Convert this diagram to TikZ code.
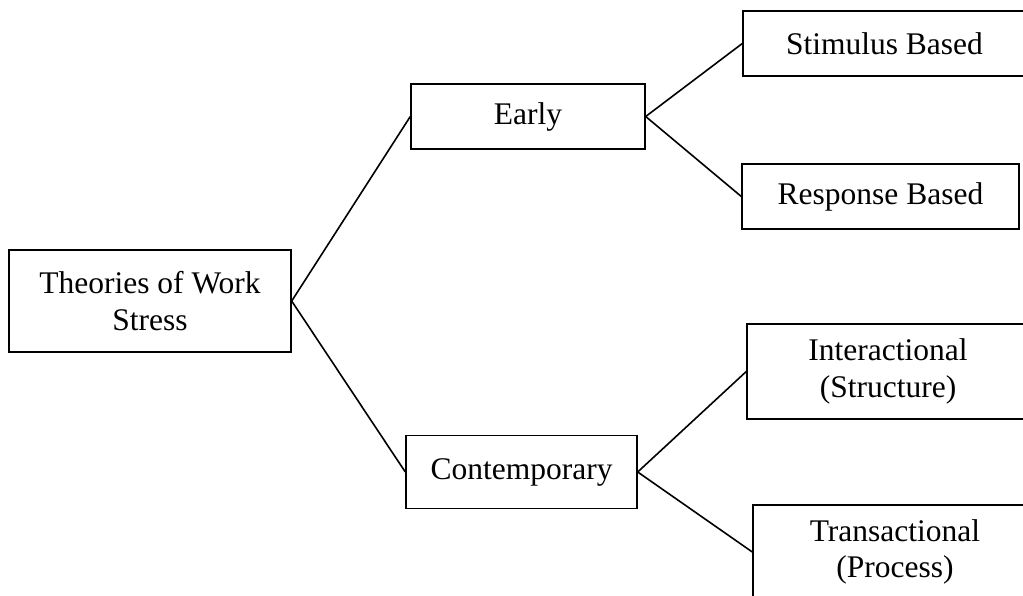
\documentclass[tikz,border=0pt]{standalone}
\usepackage{fontspec}
\setmainfont{Liberation Serif}

\def\xpage{1023}
\def\ypage{596}

\tikzset{
	theorybox/.style={draw=black, line width=1.4pt, inner sep=0pt, align=center,
		font=\fontsize{31.5}{36.5}\selectfont},
	branch/.style={black, line width=1.6pt}
}

\begin{document}
\begin{tikzpicture}[x=1pt, y={(0pt,-1pt)}]

	%%% Page
	\useasboundingbox (0,0) rectangle (\xpage,\ypage);
	\clip (0,0) rectangle (\xpage,\ypage);
	\fill[white] (0,0) rectangle (\xpage,\ypage);

	%%% Root
	\node[theorybox, minimum width=282pt, minimum height=102pt] (th_root) at (150,301) {Theories of Work\\Stress};

	%%% First level
	\node[theorybox, minimum width=234pt, minimum height=65pt] (th_early) at (528,116.5) {Early};
	\node[theorybox, minimum width=231pt, minimum height=73pt] (th_contemp) at (521.5,472) {Contemporary};

	%%% Second level
	\node[theorybox, minimum width=283pt, minimum height=65pt] (th_stimulus) at (884.5,43.5) {Stimulus Based};
	\node[theorybox, minimum width=277pt, minimum height=65pt] (th_response) at (880.5,196.5) {Response Based};
	\node[theorybox, minimum width=282pt, minimum height=95pt] (th_inter) at (888,371.5) {Interactional\\(Structure)};
	\node[theorybox, minimum width=284pt, minimum height=94pt] (th_trans) at (895,552) {Transactional\\(Process)};

	%%% Branches
	\draw[branch] (th_root.east) -- (th_early.west);
	\draw[branch] (th_root.east) -- (th_contemp.west);
	\draw[branch] (th_early.east) -- (th_stimulus.west);
	\draw[branch] (th_early.east) -- (th_response.west);
	\draw[branch] (th_contemp.east) -- (th_inter.west);
	\draw[branch] (th_contemp.east) -- (th_trans.west);

\end{tikzpicture}
\end{document}
